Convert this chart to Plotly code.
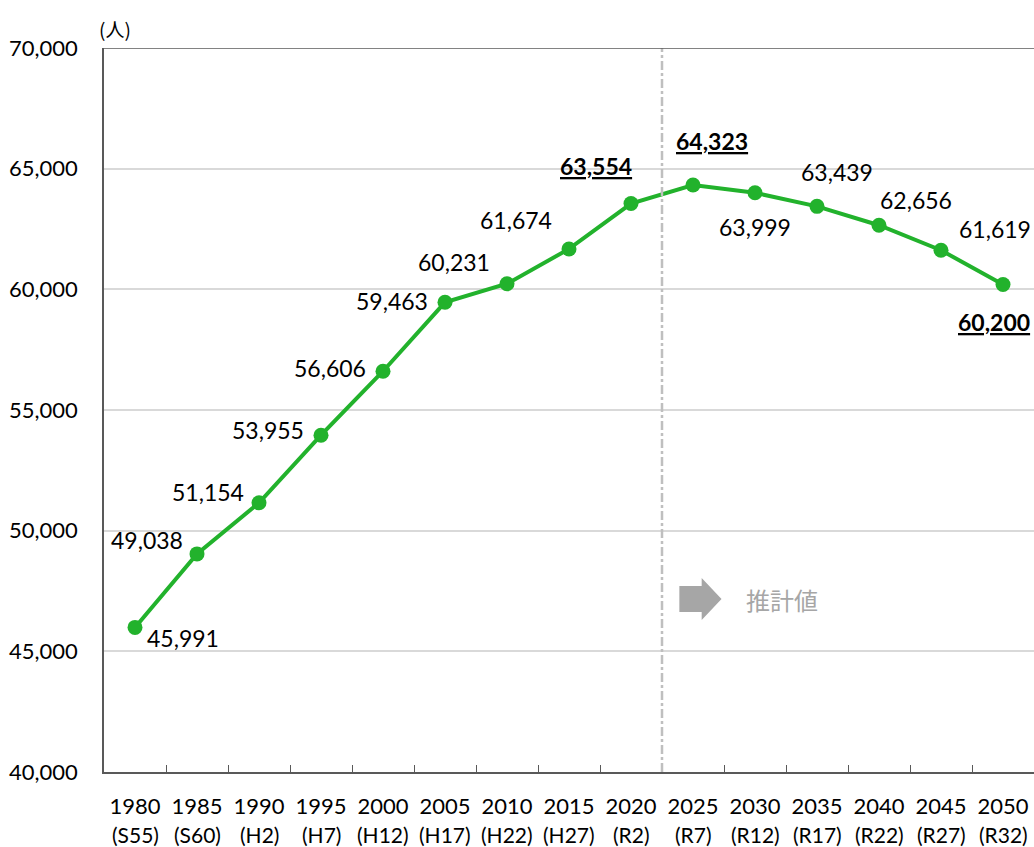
import plotly.graph_objects as go

years = ["1980", "1985", "1990", "1995", "2000", "2005", "2010", "2015",
         "2020", "2025", "2030", "2035", "2040", "2045", "2050"]
eras = ["(S55)", "(S60)", "(H2)", "(H7)", "(H12)", "(H17)", "(H22)", "(H27)",
        "(R2)", "(R7)", "(R12)", "(R17)", "(R22)", "(R27)", "(R32)"]
population = [45991, 49038, 51154, 53955, 56606, 59463, 60231, 61674,
              63554, 64323, 63999, 63439, 62656, 61619, 60200]
highlight = [False, False, False, False, False, False, False, False,
             True, True, False, False, False, False, True]
# label offsets in pixels (style only)
label_dx = [48, -50, -51, -53, -53, -53, -53, -53, -35, 19, 0, 20, 37, 54, -9]
label_dy = [-11, 14, 11, 5, 3, 1, 22, 29, 38, 44, -34, 34, 25, 21, -37]

GREEN = "#22B22C"
AXIS = "#595959"
FONT = "Lato, 'Noto Sans CJK JP', sans-serif"
JFONT = "'Noto Sans CJK JP', sans-serif"

fig = go.Figure()
fig.add_trace(go.Scatter(
    x=years, y=population, mode="lines+markers",
    line=dict(color=GREEN, width=4),
    marker=dict(color=GREEN, size=15),
    hoverinfo="skip", showlegend=False,
))

annotations = []
for i, v in enumerate(population):
    txt = f"{v:,}"
    if highlight[i]:
        txt = f"<b><u>{txt}</u></b>"
    annotations.append(dict(
        x=i, y=v, xref="x", yref="y", text=txt, showarrow=False,
        xshift=label_dx[i], yshift=label_dy[i],
        font=dict(family=FONT, size=23, color="#000000"),
    ))
    annotations.append(dict(
        x=i, y=0, xref="x", yref="paper", text=eras[i], showarrow=False,
        yanchor="middle", yshift=-62,
        font=dict(family=FONT, size=21, color="#000000"),
    ))

annotations.append(dict(
    x=0.012, y=1, xref="paper", yref="paper", text="(人)", showarrow=False,
    xanchor="center", yanchor="middle", yshift=20,
    font=dict(family=JFONT, size=19, color="#000000"),
))
annotations.append(dict(
    x=10.44, y=47150, xref="x", yref="y", text="推計値", showarrow=False,
    font=dict(family=JFONT, size=24, color="#A6A6A6"),
))

shapes = [
    dict(type="line", xref="x", yref="paper", x0=8.5, x1=8.5, y0=0, y1=1,
         line=dict(color="#BFBFBF", width=2.5, dash="dashdot")),
    dict(type="line", xref="paper", yref="y", x0=0, x1=1, y0=70000, y1=70000,
         line=dict(color=AXIS, width=1.5)),
    dict(type="path", xref="x", yref="y",
         path="M 8.78 47707 L 9.14 47707 L 9.14 48039 L 9.46 47169 "
              "L 9.14 46298 L 9.14 46630 L 8.78 46630 Z",
         fillcolor="#A6A6A6", line=dict(width=0)),
]

fig.update_layout(
    width=1034, height=847,
    margin=dict(l=104, r=0, t=48, b=75),
    paper_bgcolor="white", plot_bgcolor="white",
    font=dict(family=FONT, size=22, color="#000000"),
    annotations=annotations, shapes=shapes,
)
fig.update_xaxes(
    type="category", range=[-0.5, 14.5],
    showline=True, linecolor=AXIS, linewidth=1.5,
    tickson="boundaries", ticks="inside", ticklen=7, tickcolor=AXIS,
    showgrid=False, tickfont=dict(family=FONT, size=22, color="#000000"),
    ticklabelstandoff=14,
)
fig.update_yaxes(
    range=[40000, 70000], dtick=5000, tickformat=",",
    showline=True, linecolor=AXIS, linewidth=1.5,
    showgrid=True, gridcolor="#D9D9D9", gridwidth=1.5,
    zeroline=False, ticks="", ticklabelstandoff=20,
    tickfont=dict(family=FONT, size=22, color="#000000"),
)

fig.write_html(
    "out.html",
    config={"displayModeBar": False},
    post_script="document.body.style.margin='0';document.body.style.overflow='hidden';",
)
